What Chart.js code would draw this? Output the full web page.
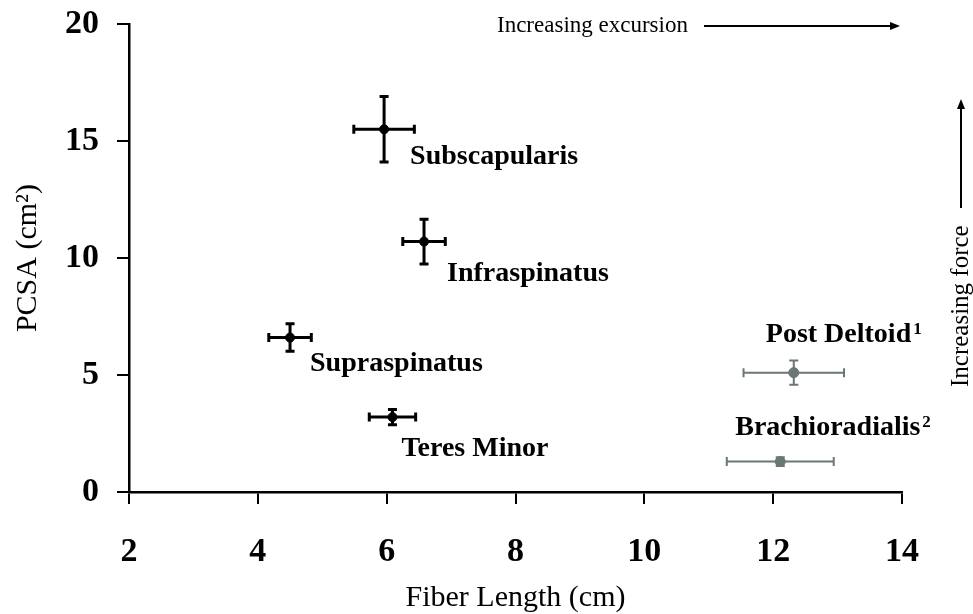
<!DOCTYPE html>
<html>
<head>
<meta charset="utf-8">
<script src="https://cdn.jsdelivr.net/npm/chart.js@4.4.1/dist/chart.umd.min.js"></script>
<style>
  html, body { margin: 0; padding: 0; background: #fff; }
</style>
</head>
<body>
<canvas id="pcsaChart" width="973" height="614"></canvas>
<script>
// rotator cuff muscles (black)
const cuffMuscles = ['Subscapularis', 'Infraspinatus', 'Supraspinatus', 'Teres Minor'];
const cuffFiberLength = [5.96, 6.58, 4.50, 6.09];
const cuffFiberLengthSd = [0.47, 0.33, 0.33, 0.36];
const cuffPcsa = [15.5, 10.7, 6.6, 3.2];
const cuffPcsaSd = [1.4, 0.96, 0.59, 0.33];

// reference muscles (grey)
const refMuscles = ['Post Deltoid', 'Brachioradialis'];
const refNotes = ['1', '2'];
const refFiberLength = [12.32, 12.11];
const refFiberLengthSd = [0.78, 0.83];
const refPcsa = [5.1, 1.3];
const refPcsaSd = [0.52, 0.19];

const xTicks = [2, 4, 6, 8, 10, 12, 14];
const yTicks = [0, 5, 10, 15, 20];

const SERIF = "'Liberation Serif', 'Times New Roman', serif";
const GREY = '#6b7676';

// where each name sits, relative to its point (left / baseline)
const labelOffsets = {
    'Subscapularis': [26, 35],
    'Infraspinatus': [23, 39],
    'Supraspinatus': [20, 33],
    'Teres Minor': [9, 39],
    'Post Deltoid': [-28, -31],
    'Brachioradialis': [-45, -27]
};

const toPoints = (xs, ys) => xs.map((x, i) => ({ x: x, y: ys[i] }));

// error bars in both directions
const errorBars = {
    id: 'errorBars',
    beforeDatasetsDraw(chart) {
        const { ctx, scales: { x, y } } = chart;
        chart.data.datasets.forEach((ds, di) => {
            const meta = chart.getDatasetMeta(di);
            if (meta.hidden) return;
            ctx.save();
            ctx.strokeStyle = ds.barColor;
            ctx.lineWidth = ds.barWidth;
            ctx.lineCap = 'butt';
            ds.data.forEach((p, i) => {
                const px = x.getPixelForValue(p.x);
                const py = y.getPixelForValue(p.y);
                const x0 = x.getPixelForValue(p.x - ds.xErr[i]);
                const x1 = x.getPixelForValue(p.x + ds.xErr[i]);
                const y0 = y.getPixelForValue(p.y - ds.yErr[i]);
                const y1 = y.getPixelForValue(p.y + ds.yErr[i]);
                const c = 4.5;
                ctx.beginPath();
                ctx.moveTo(x0, py); ctx.lineTo(x1, py);
                ctx.moveTo(x0, py - c); ctx.lineTo(x0, py + c);
                ctx.moveTo(x1, py - c); ctx.lineTo(x1, py + c);
                ctx.moveTo(px, y0); ctx.lineTo(px, y1);
                ctx.moveTo(px - c, y0); ctx.lineTo(px + c, y0);
                ctx.moveTo(px - c, y1); ctx.lineTo(px + c, y1);
                ctx.stroke();
            });
            ctx.restore();
        });
    }
};

// muscle names + arrows
const annotations = {
    id: 'annotations',
    afterDraw(chart) {
        const { ctx, scales: { x, y } } = chart;
        ctx.save();
        ctx.fillStyle = '#000';
        ctx.textBaseline = 'alphabetic';
        ctx.textAlign = 'left';

        chart.data.datasets.forEach(ds => {
            ds.data.forEach((p, i) => {
                const name = ds.names[i];
                const off = labelOffsets[name];
                const lx = x.getPixelForValue(p.x) + off[0];
                const ly = y.getPixelForValue(p.y) + off[1];
                ctx.font = 'bold 28px ' + SERIF;
                ctx.fillText(name, lx, ly);
                if (ds.notes) {
                    const w = ctx.measureText(name).width;
                    ctx.font = 'bold 17px ' + SERIF;
                    ctx.fillText(ds.notes[i], lx + w + 2, ly - 8);
                }
            });
        });

        // increasing excursion
        ctx.font = '23px ' + SERIF;
        ctx.textBaseline = 'middle';
        ctx.fillText('Increasing excursion', 497, 26);
        drawArrow(ctx, 704, 26, 900, 26);

        // increasing force (rotated)
        ctx.save();
        ctx.translate(961, 387);
        ctx.rotate(-Math.PI / 2);
        ctx.font = '25px ' + SERIF;
        ctx.textAlign = 'left';
        ctx.fillText('Increasing force', 0, 0);
        ctx.restore();
        drawArrow(ctx, 961, 208, 961, 99);

        ctx.restore();
    }
};

function drawArrow(ctx, x0, y0, x1, y1) {
    const a = Math.atan2(y1 - y0, x1 - x0);
    const h = 10;
    ctx.save();
    ctx.strokeStyle = '#000';
    ctx.fillStyle = '#000';
    ctx.lineWidth = 2;
    ctx.beginPath();
    ctx.moveTo(x0, y0);
    ctx.lineTo(x1 - Math.cos(a) * h * 0.8, y1 - Math.sin(a) * h * 0.8);
    ctx.stroke();
    ctx.beginPath();
    ctx.moveTo(x1, y1);
    ctx.lineTo(x1 - h * Math.cos(a) + 4 * Math.sin(a), y1 - h * Math.sin(a) - 4 * Math.cos(a));
    ctx.lineTo(x1 - h * Math.cos(a) - 4 * Math.sin(a), y1 - h * Math.sin(a) + 4 * Math.cos(a));
    ctx.closePath();
    ctx.fill();
    ctx.restore();
}

new Chart(document.getElementById('pcsaChart'), {
    type: 'scatter',
    data: {
        datasets: [
            {
                label: 'Rotator cuff',
                data: toPoints(cuffFiberLength, cuffPcsa),
                xErr: cuffFiberLengthSd,
                yErr: cuffPcsaSd,
                names: cuffMuscles,
                backgroundColor: '#000',
                borderColor: '#000',
                pointRadius: 4.5,
                barColor: '#000',
                barWidth: 3
            },
            {
                label: 'Reference',
                data: toPoints(refFiberLength, refPcsa),
                xErr: refFiberLengthSd,
                yErr: refPcsaSd,
                names: refMuscles,
                notes: refNotes,
                backgroundColor: GREY,
                borderColor: GREY,
                pointRadius: 5,
                barColor: GREY,
                barWidth: 2
            }
        ]
    },
    options: {
        responsive: false,
        animation: false,
        layout: { padding: { top: 24, right: 71, left: 0, bottom: 0 } },
        plugins: {
            legend: { display: false },
            tooltip: { enabled: false }
        },
        scales: {
            x: {
                type: 'linear',
                min: 2,
                max: 14,
                afterBuildTicks: s => { s.ticks = xTicks.map(v => ({ value: v })); },
                afterFit: s => { s.height = 122; s.paddingLeft = 0; s.paddingRight = 0; },
                grid: { drawOnChartArea: false, tickLength: 12, color: '#000', lineWidth: 2 },
                border: { color: '#000', width: 2.5 },
                ticks: {
                    color: '#000',
                    font: { family: SERIF, size: 34, weight: 'bold' },
                    padding: 28,
                    maxRotation: 0,
                    autoSkip: false
                },
                title: {
                    display: true,
                    text: 'Fiber Length (cm)',
                    color: '#000',
                    font: { family: SERIF, size: 30, lineHeight: 1 },
                    padding: { top: 0, bottom: 0.5 }
                }
            },
            y: {
                type: 'linear',
                min: 0,
                max: 20,
                afterBuildTicks: s => { s.ticks = yTicks.map(v => ({ value: v })); },
                afterFit: s => { s.width = 129; s.paddingTop = 0; s.paddingBottom = 0; },
                grid: { drawOnChartArea: false, tickLength: 12, color: '#000', lineWidth: 2 },
                border: { color: '#000', width: 2.5 },
                ticks: {
                    color: '#000',
                    font: { family: SERIF, size: 34, weight: 'bold' },
                    padding: 18
                },
                title: {
                    display: true,
                    text: 'PCSA (cm²)',
                    color: '#000',
                    font: { family: SERIF, size: 30, lineHeight: 1.2 },
                    padding: { top: 10, bottom: 0 }
                }
            }
        }
    },
    plugins: [errorBars, annotations]
});
</script>
</body>
</html>
